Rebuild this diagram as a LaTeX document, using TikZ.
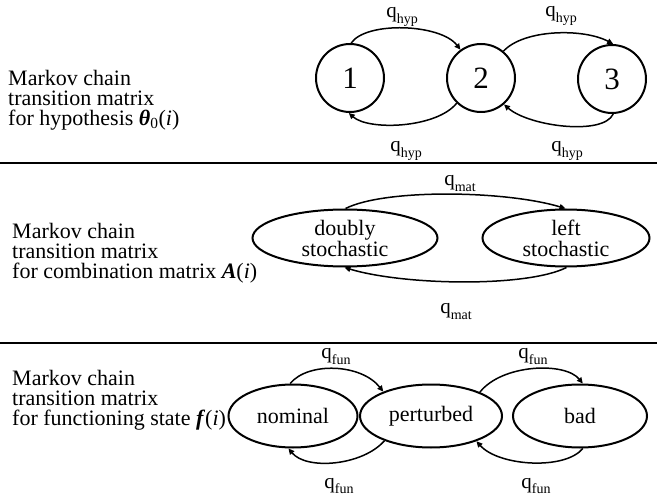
\documentclass[tikz,border=0pt]{standalone}
\usepackage{fontspec}
\setmainfont{Liberation Serif}
\usetikzlibrary{arrows.meta,shapes.geometric}
\newcommand\qlab[1]{q\raisebox{-0.28em}{\fontsize{14}{14}\selectfont #1}}
\begin{document}
\begin{tikzpicture}[x=1pt,y=1pt,
  state/.style={draw,line width=2pt,inner sep=0pt},
  circstate/.style={state,circle,minimum size=68pt,font=\fontsize{31}{31}\selectfont},
  ellstate/.style={state,ellipse,font=\fontsize{22}{21}\selectfont,align=center},
  trans/.style={line width=1.5pt,-{Triangle[length=6pt,width=5.5pt]}},
  qlabel/.style={font=\fontsize{21}{21}\selectfont,inner sep=0pt,anchor=base},
  desc/.style={font=\fontsize{22}{20}\selectfont,align=left,anchor=north west,inner sep=0pt},
  sep/.style={line width=1.8pt}]
\useasboundingbox (0,0) rectangle (657,499);
% separators
\coordinate (s1l) at (0,336);
\coordinate (s1r) at (657,336);
\coordinate (s2l) at (0,156);
\coordinate (s2r) at (657,156);
\draw[sep] (s1l) -- (s1r);
\draw[sep] (s2l) -- (s2r);
% descriptions
\node[desc] (d1) at (8,429) {Markov chain\\transition matrix\\for hypothesis \textbf{\textit{θ}}\textsubscript{0}(\textit{i})};
\node[desc] (d2) at (12,276) {Markov chain\\transition matrix\\for combination matrix \textbf{\textit{A}}(\textit{i})};
\node[desc] (d3) at (12,129) {Markov chain\\transition matrix\\for functioning state \textbf{\textit{f}}(\textit{i})};
% top row
\node[circstate] (n1) at (350,421) {1};
\node[circstate] (n2) at (481,421) {2};
\node[circstate] (n3) at (612,420) {3};
\draw[trans] (n1.88) .. controls +(15,22) and +(-20,26) .. (n2.126);
\draw[trans] (n2.50) .. controls +(20,22) and +(-30,16) .. (n3.88);
\draw[trans] (n2.226) .. controls +(-20,-25) and +(20,-18) .. (n1.268);
\draw[trans] (n3.272) .. controls +(-10,-22) and +(25,-22) .. (n2.311);
\node[qlabel] (l1) at (402,481) {\qlab{hyp}};
\node[qlabel] (l2) at (561,482) {\qlab{hyp}};
\node[qlabel] (l3) at (406,347) {\qlab{hyp}};
\node[qlabel] (l4) at (567,347) {\qlab{hyp}};
% middle row
\node[ellstate,minimum width=185pt,minimum height=57pt] (ds) at (345,261) {doubly\\stochastic};
\node[ellstate,minimum width=167pt,minimum height=57pt] (ls) at (566,261) {left\\stochastic};
\draw[trans] (ds.89) .. controls +(40,20) and +(-60,18) .. (ls.91);
\draw[trans] (ls.271) .. controls +(-40,-20) and +(60,-18) .. (ds.269);
\node[qlabel] (m1) at (460,313) {\qlab{mat}};
\node[qlabel] (m2) at (456,185) {\qlab{mat}};
% bottom row
\node[ellstate,minimum width=129pt,minimum height=63pt] (nom) at (293,83) {nominal};
\node[ellstate,minimum width=142pt,minimum height=63pt] (per) at (431,83) {perturbed};
\node[ellstate,minimum width=134pt,minimum height=63pt] (bad) at (580,83) {bad};
\draw[trans] (nom.95) .. controls +(18,22) and +(-22,28) .. (per.153);
\draw[trans] (per.26) .. controls +(22,28) and +(-18,22) .. (bad.85);
\draw[trans] (per.208) .. controls +(-22,-25) and +(18,-22) .. (nom.262);
\draw[trans] (bad.275) .. controls +(-18,-22) and +(22,-25) .. (per.331);
\node[qlabel] (f1) at (336,140) {\qlab{fun}};
\node[qlabel] (f2) at (533,140) {\qlab{fun}};
\node[qlabel] (f3) at (339,11) {\qlab{fun}};
\node[qlabel] (f4) at (536,11) {\qlab{fun}};
\end{tikzpicture}
\end{document}
